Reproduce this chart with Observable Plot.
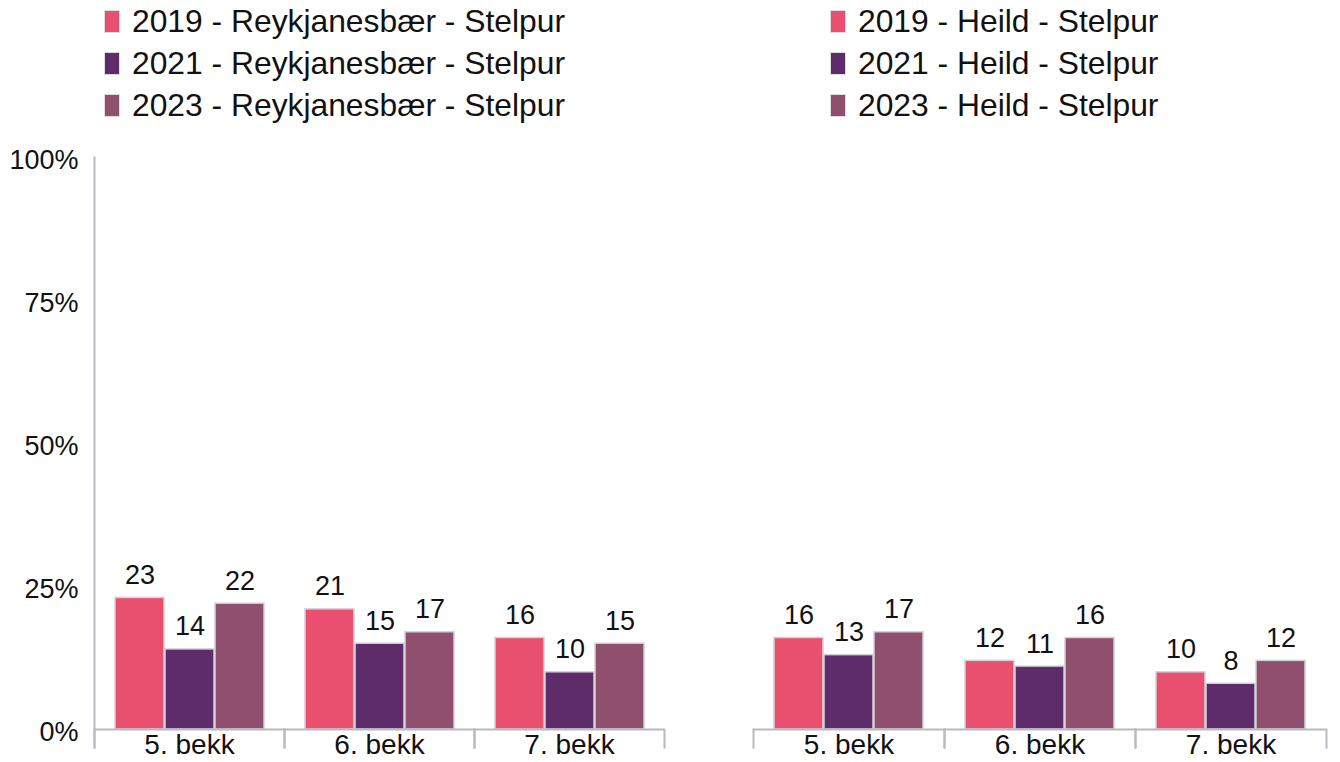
<!DOCTYPE html>
<html>
<head>
<meta charset="utf-8">
<script src="https://cdn.jsdelivr.net/npm/d3@7"></script>
<script src="https://cdn.jsdelivr.net/npm/@observablehq/plot@0.6"></script>
<style>
  html, body { margin: 0; padding: 0; background: #fff; }
  body { width: 1340px; height: 762px; overflow: hidden; font-family: "Liberation Sans", Arial, sans-serif; }
  #legend { position: relative; height: 130px; }
  .lg { position: absolute; display: flex; align-items: center; font-size: 31.8px; color: #111; height: 34px; white-space: nowrap; }
  .sw { width: 16px; height: 23px; margin-right: 12px; box-sizing: border-box; border: 1px solid #ddd; }
  #charts { position: relative; height: 632px; }
  #charts > div { position: absolute; top: 0; }
</style>
</head>
<body>
<div id="legend"></div>
<div id="charts"><div id="p1" style="left:0"></div><div id="p2" style="left:700px"></div></div>
<script>
const grades = ["5. bekk", "6. bekk", "7. bekk"];
const years = ["2019", "2021", "2023"];
const regions = ["Reykjanesbær", "Heild"];
const reykjanesbaer2019 = [23, 21, 16];
const reykjanesbaer2021 = [14, 15, 10];
const reykjanesbaer2023 = [22, 17, 15];
const heild2019 = [16, 12, 10];
const heild2021 = [13, 11, 8];
const heild2023 = [17, 16, 12];
const yTicks = [0, 25, 50, 75, 100];
const colors = ["#E94F6E", "#5E2C6A", "#914F6E"];

const series = {
  "Reykjanesbær": [reykjanesbaer2019, reykjanesbaer2021, reykjanesbaer2023],
  "Heild": [heild2019, heild2021, heild2023]
};

function rows(region) {
  const out = [];
  grades.forEach((g, gi) => years.forEach((y, yi) => out.push({grade: g, year: y, value: series[region][yi][gi]})));
  return out;
}

// Legend
const legend = document.getElementById("legend");
const legendLeft = [104, 830];
const legendTop = [4, 46, 88];
regions.forEach((r, ri) => {
  years.forEach((y, yi) => {
    const d = document.createElement("div");
    d.className = "lg";
    d.style.left = legendLeft[ri] + "px";
    d.style.top = legendTop[yi] + "px";
    d.innerHTML = `<span class="sw" style="background:${colors[yi]}"></span><span>${y} - ${r} - Stelpur</span>`;
    legend.appendChild(d);
  });
});

const plotH = 572;
const axisGray = "#b9b9c1";
const font = "Liberation Sans, Arial, sans-serif";

function panel(region, showY, width, mLeft, mRight) {
  const marks = [
    Plot.barY(rows(region), {
      fx: "grade", x: "year", y: "value", fill: "year",
      stroke: "#d2d2d8", strokeWidth: 1.5
    }),
    Plot.text(rows(region), {
      fx: "grade", x: "year", y: "value", text: d => String(d.value),
      lineAnchor: "bottom", dy: -14, fontSize: 27, fill: "#111"
    }),
    Plot.ruleY([0], {stroke: axisGray, strokeWidth: 2}),
    Plot.frame({anchor: "left", stroke: axisGray, strokeWidth: 2, insetTop: plotH, insetBottom: -18}),
    Plot.frame({anchor: "right", stroke: axisGray, strokeWidth: 2, insetTop: plotH, insetBottom: -18}),
    Plot.axisFx({anchor: "bottom", tickSize: 0, tickPadding: 5, fontSize: 28, label: null, fill: "#111"})
  ];
  if (showY) {
    marks.push(Plot.frame({anchor: "left", facet: "super", stroke: axisGray, strokeWidth: 2, insetBottom: -18}));
    marks.push(Plot.axisY({ticks: yTicks, tickFormat: d => d + "%", tickSize: 0, tickPadding: 16, dy: 3, fontSize: 27, label: null, fill: "#111"}));
  }
  return Plot.plot({
    width, height: plotH + 27 + 33,
    marginTop: 27, marginBottom: 33, marginLeft: mLeft, marginRight: mRight,
    style: {fontFamily: font, background: "transparent", overflow: "visible"},
    fx: {domain: grades, padding: 0, label: null},
    x: {domain: years, paddingInner: 0.02, paddingOuter: 0.4, axis: null},
    y: {domain: [0, 100], axis: showY ? undefined : null, label: null},
    color: {domain: years, range: colors},
    marks
  });
}

document.getElementById("p1").appendChild(panel("Reykjanesbær", true, 700, 93, 35));
document.getElementById("p2").appendChild(panel("Heild", false, 640, 53, 14));
</script>
</body>
</html>
